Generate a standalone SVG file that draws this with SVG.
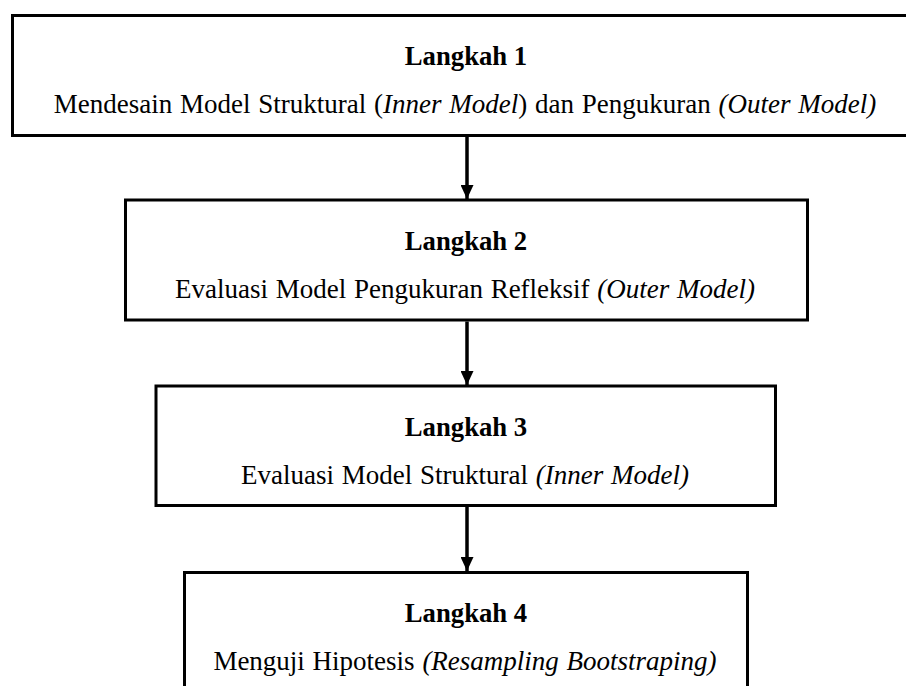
<svg xmlns="http://www.w3.org/2000/svg" width="906" height="686" viewBox="0 0 906 686">
<style>
.box{fill:#fff;stroke:#000;stroke-width:3}
.t{font-family:"Liberation Serif","Times New Roman",serif;font-size:27px;word-spacing:1px;fill:#000;text-anchor:middle}
.b{font-weight:bold;font-size:26.7px;word-spacing:0}
.i{font-style:italic}
.c{stroke:#000;stroke-width:3.5;fill:none}
</style>
<defs>
<marker id="ah" markerUnits="userSpaceOnUse" markerWidth="14" markerHeight="13" refX="14" refY="6.5" orient="auto" viewBox="0 0 14 13">
<path d="M0,0 L14,6.5 L0,13 Z" fill="#000"/>
</marker>
</defs>
<rect width="906" height="686" fill="#fff"/>
<g id="node1">
<rect class="box" x="12.5" y="15.5" width="910" height="120"/>
<text class="t b" x="466" y="65">Langkah 1</text>
<text class="t" x="465" y="113">Mendesain Model Struktural (<tspan class="i">Inner Model</tspan>) dan Pengukuran <tspan class="i">(Outer Model)</tspan></text>
</g>
<g id="node2">
<rect class="box" x="125.5" y="200" width="682" height="120"/>
<text class="t b" x="466" y="250">Langkah 2</text>
<text class="t" x="465" y="298">Evaluasi Model Pengukuran Refleksif <tspan class="i">(Outer Model)</tspan></text>
</g>
<g id="node3">
<rect class="box" x="156" y="386" width="619.5" height="119.5"/>
<text class="t b" x="466" y="436">Langkah 3</text>
<text class="t" x="465" y="484">Evaluasi Model Struktural <tspan class="i">(Inner Model)</tspan></text>
</g>
<g id="node4">
<rect class="box" x="184.5" y="572.5" width="563" height="140"/>
<text class="t b" x="466" y="622">Langkah 4</text>
<text class="t" x="465" y="670">Menguji Hipotesis <tspan class="i">(Resampling Bootstraping)</tspan></text>
</g>
<g id="connectors">
<line class="c" x1="467" y1="137" x2="467" y2="199" marker-end="url(#ah)"/>
<line class="c" x1="467" y1="321.5" x2="467" y2="385" marker-end="url(#ah)"/>
<line class="c" x1="467" y1="507" x2="467" y2="571" marker-end="url(#ah)"/>
</g>
</svg>
